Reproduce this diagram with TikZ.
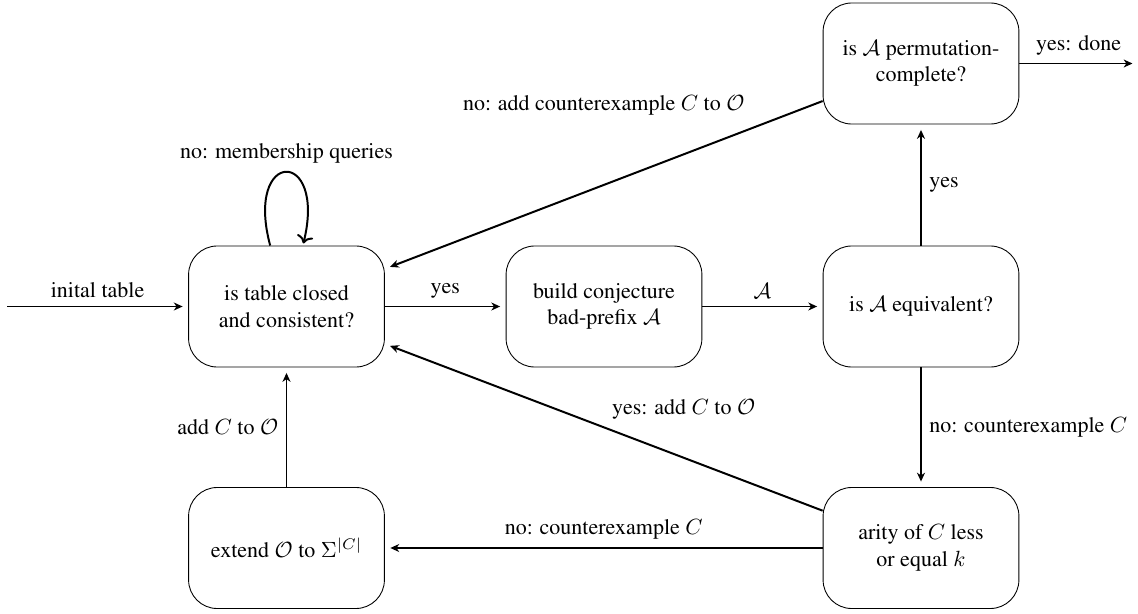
\documentclass[tikz,border=0pt]{standalone}
\usepackage[T1]{fontenc}
\usepackage{times}
\usetikzlibrary{arrows.meta,bending}
\begin{document}
\begin{tikzpicture}[x=0.4545pt,y=-0.4545pt,
  box/.style={draw, rounded corners=13pt, minimum width=89pt, minimum height=55pt, align=center, inner sep=2pt},
  arr/.style={line width=0.9pt, -{Stealth[length=4pt,width=3.6pt,inset=1.2pt]}, shorten >=2.5pt},
  looparr/.style={line width=0.9pt, -{Stealth[length=4pt,width=3.6pt,inset=1.2pt,bend]}, shorten >=1.5pt}]
\useasboundingbox (0,0) rectangle (1138,614);
\node[box] (n1) at (286.5,306.5) {is table closed\\and consistent?};
\node[box] (n2) at (604,306.5) {build conjecture\\bad-prefix $\mathcal{A}$};
\node[box] (n3) at (921,306.5) {is $\mathcal{A}$ equivalent?};
\node[box] (n4) at (921,63.5) {is $\mathcal{A}$ permutation-\\complete?};
\node[box] (n5) at (921,548) {arity of $C$ less\\or equal $k$};
\node[box] (n6) at (286.5,548) {extend $\mathcal{O}$ to $\Sigma^{|C|}$};
\coordinate (start) at (7,306.5);
\coordinate (done) at (1138,63.5);
\draw[arr] (start) -- node[above] {inital table} (n1);
\draw[arr] (n1) -- node[above] {yes} (n2);
\draw[arr] (n2) -- node[above] {$\mathcal{A}$} (n3);
\draw[arr] (n3) -- node[right] {yes} (n4);
\draw[arr] (n3) -- node[right] {no: counterexample $C$} (n5);
\draw[arr] (n5) -- node[above] {no: counterexample $C$} (n6);
\draw[arr] (n6) -- node[left] {add $C$ to $\mathcal{O}$} (n1);
\draw[arr] (n5) -- node[above right] {yes: add $C$ to $\mathcal{O}$} (n1);
\draw[arr] (n4) -- node[midway,yshift=36pt] {no: add counterexample $C$ to $\mathcal{O}$} (n1);
\path (n1) edge[looparr, loop above] node[above] {no: membership queries} (n1);
\draw[arr] (n4) -- node[above] {yes: done} (done);
\end{tikzpicture}
\end{document}
